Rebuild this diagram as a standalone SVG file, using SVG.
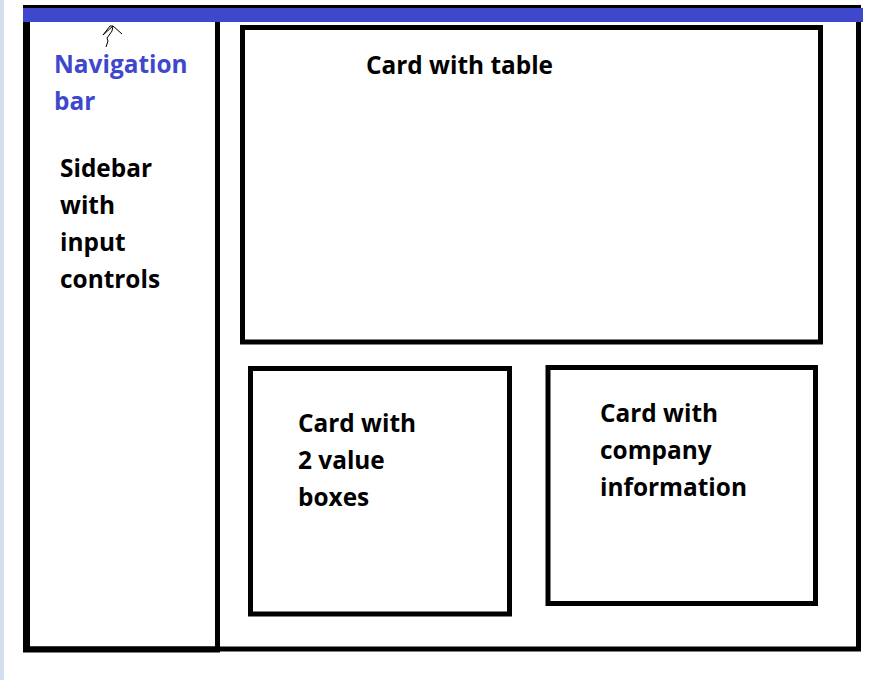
<svg xmlns="http://www.w3.org/2000/svg" width="884" height="680" viewBox="0 0 884 680">
<style>
.box{fill:none;stroke:#000;stroke-width:5;}
.t{font-family:"Open Sans","Noto Sans","Liberation Sans",sans-serif;font-weight:bold;font-size:24.4px;fill:#000;}
.nav{fill:#3f48cc;}
</style>
<rect x="0" y="0" width="884" height="680" fill="#fff"/>
<rect x="0" y="0" width="4" height="680" fill="#d3deef"/>
<g id="frame">
<rect x="23" y="5" width="838" height="3" fill="#000"/>
<rect x="23" y="8" width="840" height="14" fill="#3f48cc"/>
<path d="M26.5 22V652" fill="none" stroke="#000" stroke-width="7"/>
<path d="M217.5 22V652M858.5 22V651M23 649H861" fill="none" stroke="#000" stroke-width="5"/>
<path d="M23 649.5H220" stroke="#000" stroke-width="6"/>
</g>
<g id="connectors">
<path d="M106 47L108 41L107 38L112 31L113 26L103 35L110 26L113 26L122 34" fill="none" stroke="#000" stroke-width="1"/>
</g>
<g id="nav-label">
<text class="t nav" x="54" y="73">Navigation</text>
<text class="t nav" x="54" y="110">bar</text>
</g>
<g id="sidebar">
<text class="t" x="60" y="177">Sidebar</text>
<text class="t" x="60" y="214">with</text>
<text class="t" x="60" y="251">input</text>
<text class="t" x="60" y="288">controls</text>
</g>
<g id="card-table">
<rect class="box" x="242.5" y="27.5" width="578" height="314.5"/>
<text class="t" x="366" y="74">Card with table</text>
</g>
<g id="card-values">
<rect class="box" x="250.5" y="368.5" width="259" height="245.5"/>
<text class="t" x="298" y="432">Card with</text>
<text class="t" x="298" y="469">2 value</text>
<text class="t" x="298" y="506">boxes</text>
</g>
<g id="card-company">
<rect class="box" x="548" y="367.5" width="267.5" height="236"/>
<text class="t" x="600" y="422">Card with</text>
<text class="t" x="600" y="459">company</text>
<text class="t" x="600" y="496">information</text>
</g>
</svg>
